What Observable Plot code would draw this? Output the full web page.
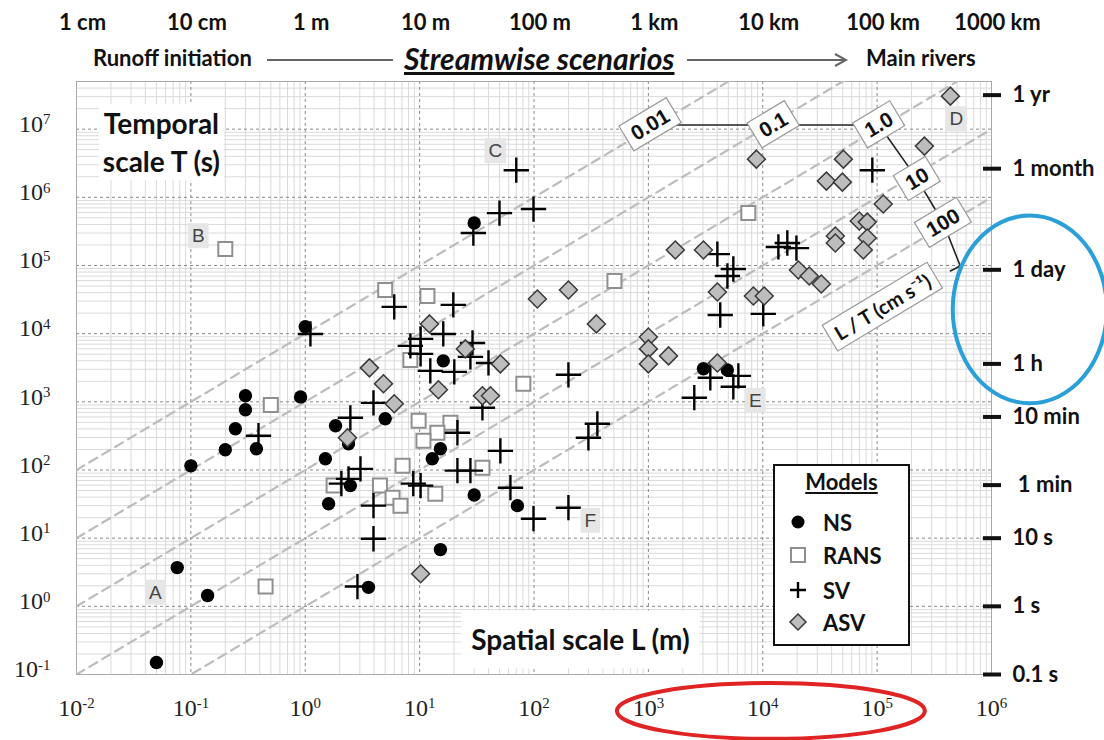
<!DOCTYPE html>
<html><head><meta charset="utf-8">
<script src="https://cdn.jsdelivr.net/npm/d3@7"></script>
<script src="https://cdn.jsdelivr.net/npm/@observablehq/plot@0.6"></script>
<style>
body{margin:0;background:#fff;}
#wrap{position:relative;width:1104px;height:740px;overflow:hidden;font-family:Lato,sans-serif;color:#111;}
.hdr{position:absolute;font-weight:bold;font-size:22px;line-height:26px;white-space:nowrap;}
.hline{position:absolute;height:0;border-top:2px solid #666;}
#legend{position:absolute;left:773px;top:464px;width:137px;height:182px;border:2px solid #111;background:#fff;box-sizing:border-box;}
#legend .t{position:absolute;left:0;width:100%;text-align:center;top:2px;font-weight:bold;font-size:22px;text-decoration:underline;}
#legend .row{position:absolute;left:10px;height:28px;display:flex;align-items:center;font-weight:bold;font-size:22px;}
#legend .row svg{width:26px;height:26px;margin-right:12px;}
</style></head>
<body>
<div id="wrap">
  <div class="hdr" style="left:93px;top:45px;">Runoff initiation</div>
  <div class="hline" style="left:267px;top:59px;width:126px;"></div>
  <div class="hdr" style="left:404px;top:42px;font-size:30px;line-height:32px;font-style:italic;text-decoration:underline;">Streamwise scenarios</div>
  <svg style="position:absolute;left:685px;top:52px;" width="165" height="16"><line x1="2" y1="8" x2="160" y2="8" stroke="#666" stroke-width="2"/><path d="M150,2 L161,8 L150,14" fill="none" stroke="#666" stroke-width="2"/></svg>
  <div class="hdr" style="left:866px;top:45px;">Main rivers</div>
</div>
<script>
// ---- data: spatial scale L (m), temporal scale T (s) ----
const nsL = [0.05, 0.076, 0.14, 0.1, 0.2, 0.245, 0.3, 0.3, 0.374, 0.91, 1.0, 1.84, 2.39, 1.5, 2.48, 1.6, 3.57, 5.0, 16.1, 15.2, 12.9, 30, 30, 71.6, 15.2, 3030, 4900];
const nsT = [0.15, 3.7, 1.44, 115, 198, 402, 1225, 764, 205, 1180, 12600, 445, 243, 146, 59, 32, 1.9, 564, 3990, 205, 146, 420000, 43, 30, 6.8, 3050, 2940];

const ransL = [0.2, 0.5, 0.45, 1.77, 5.0, 11.7, 8.3, 9.8, 18.6, 14.3, 10.8, 7.1, 35.4, 4.5, 5.8, 6.8, 13.7, 80.7, 505, 7480];
const ransT = [175000, 900, 1.95, 59, 43700, 35700, 4120, 527, 492, 352, 268, 115, 108, 59, 39, 30, 45, 1840, 59300, 587000];

const svL = [0.39, 1.11, 2.48, 3.04, 2.07, 2.39, 2.86, 3.95, 3.95, 3.95, 6.0, 19.7, 16.1, 10.2, 8.3, 10.2, 29, 27.8, 12.4, 20.1, 40, 21.4, 8.8, 10.2, 21.4, 27.8, 50.8, 35.4, 62.2, 99, 200, 200, 358, 299, 29.5, 49.9, 99, 70, 4010, 5530, 4910, 4250, 10100, 13700, 16400, 19700, 90800, 3480, 6120, 5530, 2520];
const svT = [318, 9900, 583, 104, 63, 74, 1.95, 30, 9.8, 966, 24700, 26400, 9900, 8370, 6620, 5050, 7310, 4560, 2840, 2750, 3720, 352, 63, 59, 98, 98, 191, 817, 55, 19.3, 28, 2490, 476, 297, 299000, 587000, 673000, 2.5e6, 147000, 88900, 70100, 18800, 19500, 187000, 214000, 180000, 2.5e6, 2250, 2400, 1660, 1150];

const asvL = [2.34, 3.64, 4.83, 6.0, 12.2, 14.6, 25.1, 35.4, 41.6, 50.8, 107, 200, 351, 10.2, 1000, 1000, 1000, 1500, 1720, 3030, 4010, 8280, 10300, 4010, 8800, 50700, 36000, 49700, 113000, 259000, 437000, 69800, 82000, 43100, 43100, 82000, 75700, 20500, 25500, 32500];
const asvT = [297, 3150, 1840, 935, 13900, 1500, 5980, 1225, 1225, 3600, 32300, 43700, 13900, 3.0, 8950, 5980, 3600, 4720, 169000, 169000, 40900, 35700, 35700, 3720, 3.63e6, 3.63e6, 1.73e6, 1.67e6, 796000, 5.64e6, 3.05e7, 449000, 433000, 270000, 214000, 253000, 169000, 85900, 70100, 53600];

// velocity iso-lines L/T (cm/s)
const speeds = [0.01, 0.1, 1, 10, 100];
const speedNames = ["0.01", "0.1", "1.0", "10", "100"];
const speedLabelL = [1040, 12400, 104000, 224000, 379000];
const speedLabelT = [1.15e7, 1.15e7, 1.15e7, 1.85e6, 4.2e5];
const leaderExtraL = [533000, 437000];
const leaderExtraT = [98400, 83000];
const unitLabel = {L: 113000, T: 23800, text: "L / T (cm s⁻¹)"};

// case letters
const letters = ["A", "B", "C", "D", "E", "F"];
const letterL = [0.049, 0.116, 46, 492000, 8600, 311];
const letterT = [1.59, 270000, 4.77e6, 1.4e7, 1035, 18];

// axes
const decX = [1e-2, 1e-1, 1, 10, 100, 1e3, 1e4, 1e5, 1e6];
const decY = [1e-1, 1, 10, 100, 1e3, 1e4, 1e5, 1e6, 1e7];
const lengthNames = ["1 cm", "10 cm", "1 m", "10 m", "100 m", "1 km", "10 km", "100 km", "1000 km"];
const timeTicks = [0.1, 1, 10, 60, 600, 3600, 86400, 2.63e6, 3.156e7];
const timeNames = ["0.1 s", "1 s", "10 s", " 1 min", "10 min", "1 h", "1 day", "1 month", "1 yr"];

const seriesNames = ["NS", "RANS", "SV", "ASV"];

// highlight ellipses (data space extents)
const blueL = [4.63e5, 1.03e7], blueT = [935, 5.31e5];
const redL = [536, 264000], redT = [0.0112, 0.0738];

// ---- build ----
const rows = (L, T) => L.map((l, i) => ({L: l, T: T[i]}));
const ns = rows(nsL, nsT), rans = rows(ransL, ransT), sv = rows(svL, svT), asv = rows(asvL, asvT);
const isoRows = speeds.flatMap(v => [0.01, 1e6].map(L => ({v, L, T: 100 * L / v})));
const speedRows = speeds.map((v, i) => ({L: speedLabelL[i], T: speedLabelT[i], text: speedNames[i]}));
const leaderRows = [...speedLabelL, ...leaderExtraL].map((l, i) => ({L: l, T: [...speedLabelT, ...leaderExtraT][i]}));
const letterRows = letters.map((t, i) => ({L: letterL[i], T: letterT[i], text: t}));
const timeRows = timeTicks.map((t, i) => ({T: t, text: timeNames[i]}));

const minorX = d3.range(-2, 6).flatMap(k => d3.range(2, 10).map(m => m * 10 ** k));
const minorY = d3.range(-1, 8).flatMap(k => d3.range(2, 10).map(m => m * 10 ** k)).filter(v => v < 5e7);
const sup = d => "10^" + Math.round(Math.log10(d));
const nearest = (arr, d) => d3.minIndex(arr, a => Math.abs(Math.log10(a) - Math.log10(d)));

const plot = Plot.plot({
  width: 1104, height: 740,
  marginLeft: 76, marginRight: 113, marginTop: 81, marginBottom: 66,
  x: {type: "log", domain: [0.01, 1e6], label: null},
  y: {type: "log", domain: [0.1, 5e7], label: null},
  style: {background: "white", overflow: "visible"},
  marks: [
    Plot.gridX({ticks: minorX, stroke: "#dadada", strokeOpacity: 1}),
    Plot.gridY({ticks: minorY, stroke: "#dadada", strokeOpacity: 1}),
    Plot.gridX({ticks: decX, stroke: "#8a8a8a", strokeOpacity: 1, strokeDasharray: "3,3"}),
    Plot.gridY({ticks: decY, stroke: "#8a8a8a", strokeOpacity: 1, strokeDasharray: "3,3"}),
    Plot.frame({stroke: "#aaa"}),
    Plot.axisX({ticks: decX, tickFormat: sup, tickSize: 0, tickPadding: 24, fontSize: 24, fontFamily: "Liberation Serif", label: null, fill: "#222"}),
    Plot.axisY({anchor: "left", ticks: decY, tickFormat: sup, tickSize: 0, tickPadding: 26, fontSize: 24, fontFamily: "Liberation Serif", dy: -5, label: null, fill: "#222"}),
    Plot.axisX({anchor: "top", ticks: decX, tickFormat: d => lengthNames[nearest(decX, d)], tickSize: 0, tickPadding: 52, fontSize: 22, fontWeight: "bold", fontFamily: "Lato", dx: 6, label: null, fill: "#111"}),
    Plot.axisY({anchor: "right", ticks: timeTicks, tickFormat: () => "", tickSize: 18, dx: -9, strokeWidth: 4, label: null}),
    Plot.text(timeRows, {y: "T", text: "text", frameAnchor: "right", textAnchor: "start", dx: 21, fontSize: 22, fontWeight: "bold", fontFamily: "Lato", fill: "#111"}),
    Plot.text([{L: 0.0553, T: 6.7e6, text: "Temporal\nscale T (s)"}], {x: "L", y: "T", text: "text", fontSize: 28, fontWeight: "bold", fontFamily: "Lato", lineHeight: 1.35, fill: "#111"}),
    Plot.text([{L: 255, T: 0.305, text: "Spatial scale L (m)"}], {x: "L", y: "T", text: "text", fontSize: 28, fontWeight: "bold", fontFamily: "Lato", fill: "#111"}),
    Plot.line(isoRows, {x: "L", y: "T", z: "v", stroke: "#bcbcbc", strokeWidth: 2.2, strokeDasharray: "9,6", clip: true}),
    Plot.line(leaderRows, {x: "L", y: "T", stroke: "#222", strokeWidth: 1.6}),
    Plot.dot(ns, {x: "L", y: "T", r: 6.7, fill: "#000", symbol: "circle"}),
    Plot.dot(rans, {x: "L", y: "T", r: 7.9, symbol: "square", fill: "#fff", stroke: "#8f8f8f", strokeWidth: 2}),
    Plot.dot(sv, {x: "L", y: "T", r: 8.2, symbol: "plus", stroke: "#000", strokeWidth: 2.4}),
    Plot.dot(asv, {x: "L", y: "T", r: 8.1, symbol: "diamond2", fill: "#bdbdbd", stroke: "#3a3a3a", strokeWidth: 1.5}),
    Plot.text(speedRows, {x: "L", y: "T", text: "text", rotate: -31, fontSize: 21, fontWeight: "bold", fontFamily: "Liberation Sans", fill: "#111"}),
    Plot.text([unitLabel], {x: "L", y: "T", text: "text", rotate: -31, fontSize: 20, fontWeight: "bold", fontFamily: "Lato", fill: "#111"}),
    Plot.text(letterRows, {x: "L", y: "T", text: "text", fontSize: 19, fontFamily: "Liberation Sans", fill: "#444"})
  ]
});

const wrap = document.getElementById("wrap");
wrap.insertBefore(plot, wrap.firstChild);
plot.style.position = "absolute"; plot.style.left = "0"; plot.style.top = "0";

const svg = d3.select(plot);
// boxes behind annotation texts, matched by their content
function boxify(contents, px, py, fill, stroke) {
  svg.selectAll("text").filter(function () { return contents.includes(this.textContent); }).each(function () {
    const bb = this.getBBox();
    const node = this;
    d3.select(this.parentNode).insert("rect", () => node)
      .attr("transform", this.getAttribute("transform"))
      .attr("x", bb.x - px).attr("y", bb.y - py)
      .attr("width", bb.width + 2 * px).attr("height", bb.height + 2 * py)
      .attr("fill", fill).attr("stroke", stroke).attr("stroke-width", stroke === "none" ? 0 : 1.2);
  });
}
boxify(["Temporalscale T (s)"], 4, 2, "#fff", "none");
boxify(["Spatial scale L (m)"], 10, 12, "#fff", "none");
boxify(speedNames, 7, 3, "#fff", "#999");
boxify([unitLabel.text], 7, 3, "#fff", "#999");
boxify(letters, 4, 2, "#e6e6e6", "none");

// superscripts for 10^k labels
svg.selectAll("text").each(function () {
  const m = /^10\^(-?\d+)$/.exec(this.textContent);
  if (!m) return;
  const s = d3.select(this);
  s.text("10");
  s.append("tspan").attr("dy", "-0.5em").attr("font-size", "0.62em").text(m[1]);
});

// highlight ellipses
const sx = plot.scale("x"), sy = plot.scale("y");
function ellipse(Ls, Ts, color) {
  const x0 = sx.apply(Ls[0]), x1 = sx.apply(Ls[1]);
  const y0 = sy.apply(Ts[0]), y1 = sy.apply(Ts[1]);
  svg.append("ellipse").attr("cx", (x0 + x1) / 2).attr("cy", (y0 + y1) / 2)
    .attr("rx", Math.abs(x1 - x0) / 2).attr("ry", Math.abs(y1 - y0) / 2)
    .attr("fill", "none").attr("stroke", color).attr("stroke-width", 4);
}
ellipse(blueL, blueT, "#2a9fd8");
ellipse(redL, redT, "#e02424");

// legend
const legend = document.createElement("div");
legend.id = "legend";
legend.innerHTML = `<div class="t">Models</div>`;
const icons = {
  NS: `<circle cx="13" cy="13" r="6.5" fill="#000"/>`,
  RANS: `<rect x="6" y="6" width="14" height="14" fill="#fff" stroke="#8f8f8f" stroke-width="2"/>`,
  SV: `<path d="M13,5V21M5,13H21" stroke="#000" stroke-width="2.4"/>`,
  ASV: `<path d="M13,5L21,13L13,21L5,13Z" fill="#bdbdbd" stroke="#3a3a3a" stroke-width="1.5"/>`
};
const rowTops = [42, 75, 110, 142];
seriesNames.forEach((n, i) => {
  const r = document.createElement("div");
  r.className = "row";
  r.style.top = rowTops[i] + "px";
  r.innerHTML = `<svg viewBox="0 0 26 26">${icons[n]}</svg><span>${n}</span>`;
  legend.appendChild(r);
});
wrap.appendChild(legend);
</script>
</body></html>
